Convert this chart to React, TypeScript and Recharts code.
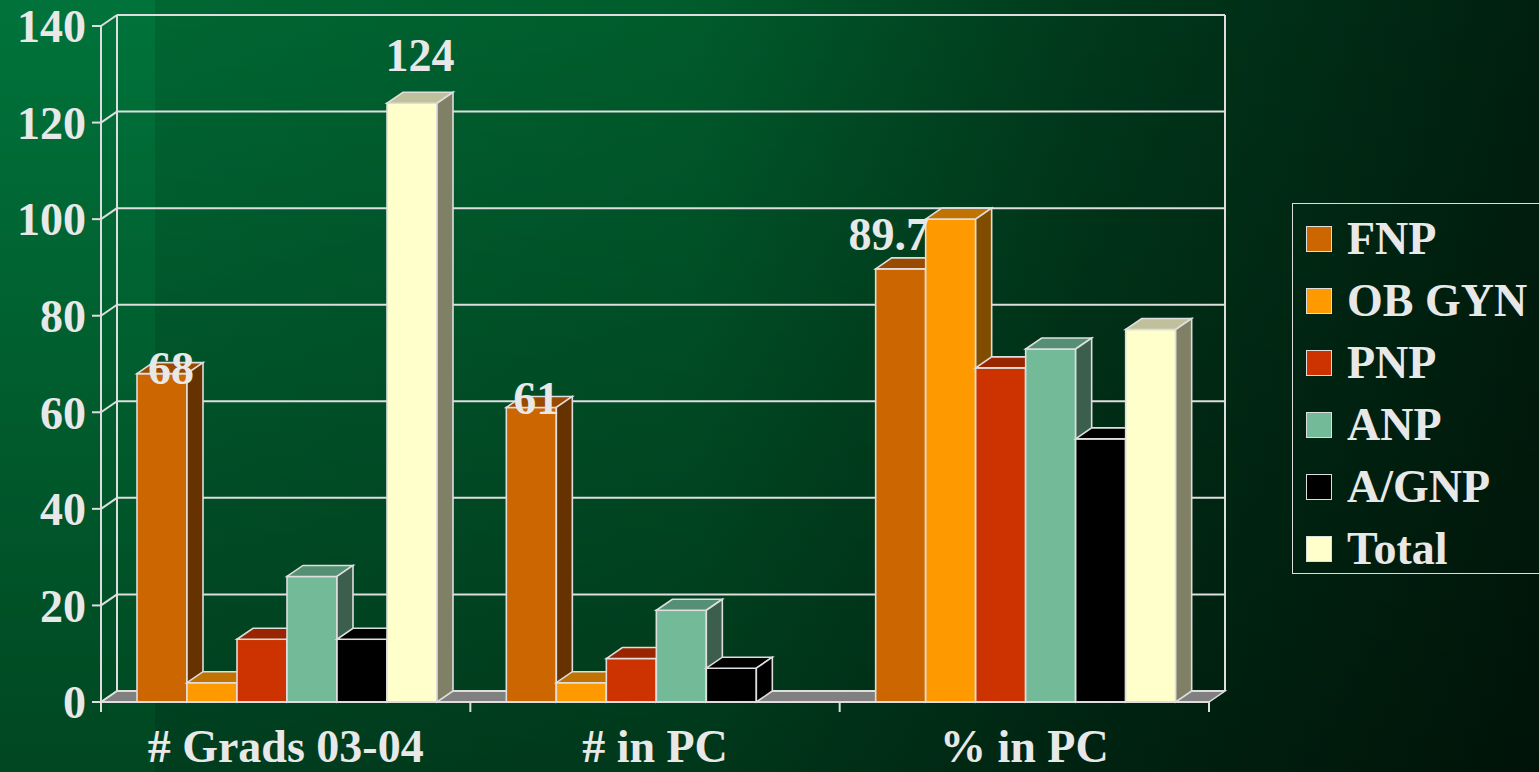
import { BarChart, Bar, XAxis, YAxis, CartesianGrid, Legend, LabelList } from "recharts";

// Data
const categories = ["# Grads 03-04", "# in PC", "% in PC"];
const fnp = [68, 61, 89.7];
const obGyn = [4, 4, 100];
const pnp = [13, 9, 69.2];
const anp = [26, 19, 73.1];
const agnp = [13, 7, 54.5];
const total = [124, null, 77.14];
const yTicks = [0, 20, 40, 60, 80, 100, 120, 140];

const series = [
  { name: "FNP", values: fnp },
  { name: "OB GYN", values: obGyn },
  { name: "PNP", values: pnp },
  { name: "ANP", values: anp },
  { name: "A/GNP", values: agnp },
  { name: "Total", values: total },
];

const data = categories.map((category, i) => {
  const row: Record<string, any> = { category };
  series.forEach((s) => (row[s.name] = s.values[i]));
  return row;
});

// Styles
const DX = 16;
const DY = -11;
const LINE = "#dedede";
const TEXT = "#e8e8e8";
const FONT = "'Liberation Serif', 'Times New Roman', serif";

const faces: Record<string, { front: string; top: string; side: string }> = {
  FNP: { front: "#cc6600", top: "#9a4a00", side: "#663300" },
  "OB GYN": { front: "#ff9900", top: "#c07300", side: "#804d00" },
  PNP: { front: "#cc3300", top: "#992600", side: "#661a00" },
  ANP: { front: "#73bb98", top: "#558f74", side: "#3b5e4d" },
  "A/GNP": { front: "#000000", top: "#000000", side: "#000000" },
  Total: { front: "#ffffcc", top: "#c0c09c", side: "#808066" },
};

// label nudges (dx from bar centre, dy from bar top to baseline)
const labelNudge: Record<string, [number, number]> = {
  "FNP-0": [9, 10],
  "FNP-1": [5, 7],
  "FNP-2": [-12, -19],
  "Total-0": [8, -32],
  "Total-2": [22, -34],
};

function Bar3D(props: any) {
  const { x, y, width: w, height: h, face } = props;
  if (x == null || y == null || !w || h == null) return null;
  const sw = 1.6;
  return (
    <g>
      <rect x={x} y={y} width={w} height={h} fill={face.front} stroke={LINE} strokeWidth={sw} />
      <polygon
        points={`${x},${y} ${x + DX},${y + DY} ${x + w + DX},${y + DY} ${x + w},${y}`}
        fill={face.top}
        stroke={LINE}
        strokeWidth={sw}
      />
      <polygon
        points={`${x + w},${y} ${x + w + DX},${y + DY} ${x + w + DX},${y + h + DY} ${x + w},${y + h}`}
        fill={face.side}
        stroke={LINE}
        strokeWidth={sw}
      />
    </g>
  );
}

function gridRow(p: any) {
  const { x1, y1, x2, y, height } = p;
  const isFloor = Math.abs(y1 - (y + height)) < 1;
  const n = categories.length;
  return (
    <g key={`h-${y1}`}>
      {isFloor && (
        <polygon
          points={`${x1},${y1} ${x2},${y1} ${x2 + DX},${y1 + DY} ${x1 + DX},${y1 + DY}`}
          fill="#808080"
          stroke={LINE}
          strokeWidth={1.5}
        />
      )}
      <line x1={x1 + DX} y1={y1 + DY} x2={x2 + DX} y2={y1 + DY} stroke={LINE} strokeWidth={2} />
      <line x1={x1} y1={y1} x2={x1 + DX} y2={y1 + DY} stroke={LINE} strokeWidth={2} />
      {isFloor &&
        Array.from({ length: n + 1 }, (_, i) => {
          const tx = x1 + ((x2 - x1) * i) / n;
          return <line key={i} x1={tx} y1={y1} x2={tx} y2={y1 + 10} stroke={LINE} strokeWidth={2} />;
        })}
    </g>
  );
}

function gridCol(p: any) {
  const { x1, y1, y2 } = p;
  return <line key={`v-${x1}`} x1={x1 + DX} y1={y1 + DY} x2={x1 + DX} y2={y2 + DY} stroke={LINE} strokeWidth={2} />;
}

function renderLegend() {
  return (
    <div
      style={{
        border: `1.5px solid ${LINE}`,
        width: 260,
        height: 371,
        boxSizing: "border-box",
        paddingTop: 4,
        fontFamily: FONT,
        fontWeight: "bold",
        fontSize: 46,
        color: TEXT,
      }}
    >
      {series.map((s) => (
        <div key={s.name} style={{ height: 62, display: "flex", alignItems: "center", whiteSpace: "nowrap" }}>
          <span
            style={{
              display: "inline-block",
              width: 26,
              height: 26,
              marginLeft: 13,
              marginRight: 15,
              boxSizing: "border-box",
              border: `1.5px solid ${LINE}`,
              background: faces[s.name].front,
            }}
          />
          <span style={{ lineHeight: "46px" }}>{s.name}</span>
        </div>
      ))}
    </div>
  );
}

function makeLabel(seriesName: string) {
  return (p: any) => {
    const { x, y, width, value, index } = p;
    const nudge = labelNudge[`${seriesName}-${index}`];
    if (value == null || !nudge) return null;
    return (
      <text
        key={`${seriesName}-${index}`}
        x={x + width / 2 + nudge[0]}
        y={y + nudge[1]}
        textAnchor="middle"
        fill={TEXT}
        fontSize={46}
        fontWeight="bold"
        fontFamily={FONT}
      >
        {value}
      </text>
    );
  };
}

export default function App() {
  return (
    <div
      style={{
        position: "absolute",
        left: 0,
        top: 0,
        width: 1539,
        height: 772,
        overflow: "hidden",
        fontFamily: FONT,
        background:
          "linear-gradient(to bottom, rgba(0,0,0,0) 0%, rgba(0,0,0,0.4) 100%), linear-gradient(to right, #006a35 0%, #005c2c 45%, #003a1c 70%, #00200f 100%)",
      }}
    >
      <div
        style={{
          position: "absolute",
          left: 0,
          top: 0,
          width: 155,
          height: 772,
          background: "linear-gradient(to bottom, #00733b 0%, #004721 100%)",
        }}
      />
      <div style={{ position: "absolute", left: 0, top: 0 }}>
        <BarChart
          width={1539}
          height={772}
          data={data}
          margin={{ top: 26, right: 330, left: 0, bottom: 0 }}
          barCategoryGap={36}
          barGap={0}
        >
          <CartesianGrid
            horizontal={gridRow as any}
            vertical={gridCol as any}
            verticalCoordinatesGenerator={({ offset }: any) => [offset.left, offset.left + offset.width]}
          />
          <XAxis
            dataKey="category"
            height={70}
            axisLine={{ stroke: LINE, strokeWidth: 2 }}
            tickLine={false}
            tickSize={0}
            tickMargin={27}
            tick={{ fill: TEXT, fontSize: 46, fontWeight: "bold", fontFamily: FONT }}
            interval={0}
          />
          <YAxis
            width={101}
            domain={[0, 140]}
            ticks={yTicks}
            interval={0}
            axisLine={{ stroke: LINE, strokeWidth: 2 }}
            tickLine={{ stroke: LINE, strokeWidth: 2 }}
            tickSize={9}
            tickMargin={6}
            tick={{ fill: TEXT, fontSize: 46, fontWeight: "bold", fontFamily: FONT }}
          />
          <Legend
            layout="vertical"
            align="center"
            verticalAlign="middle"
            content={renderLegend}
            wrapperStyle={{ left: 1292, top: 203, width: 260, height: 371 }}
          />
          {series.map((s) => (
            <Bar
              key={s.name}
              dataKey={s.name}
              name={s.name}
              fill={faces[s.name].front}
              isAnimationActive={false}
              shape={(p: any) => <Bar3D {...p} face={faces[s.name]} />}
            >
              {(s.name === "FNP" || s.name === "Total") && (
                <LabelList dataKey={s.name} content={makeLabel(s.name)} />
              )}
            </Bar>
          ))}
        </BarChart>
      </div>
    </div>
  );
}
